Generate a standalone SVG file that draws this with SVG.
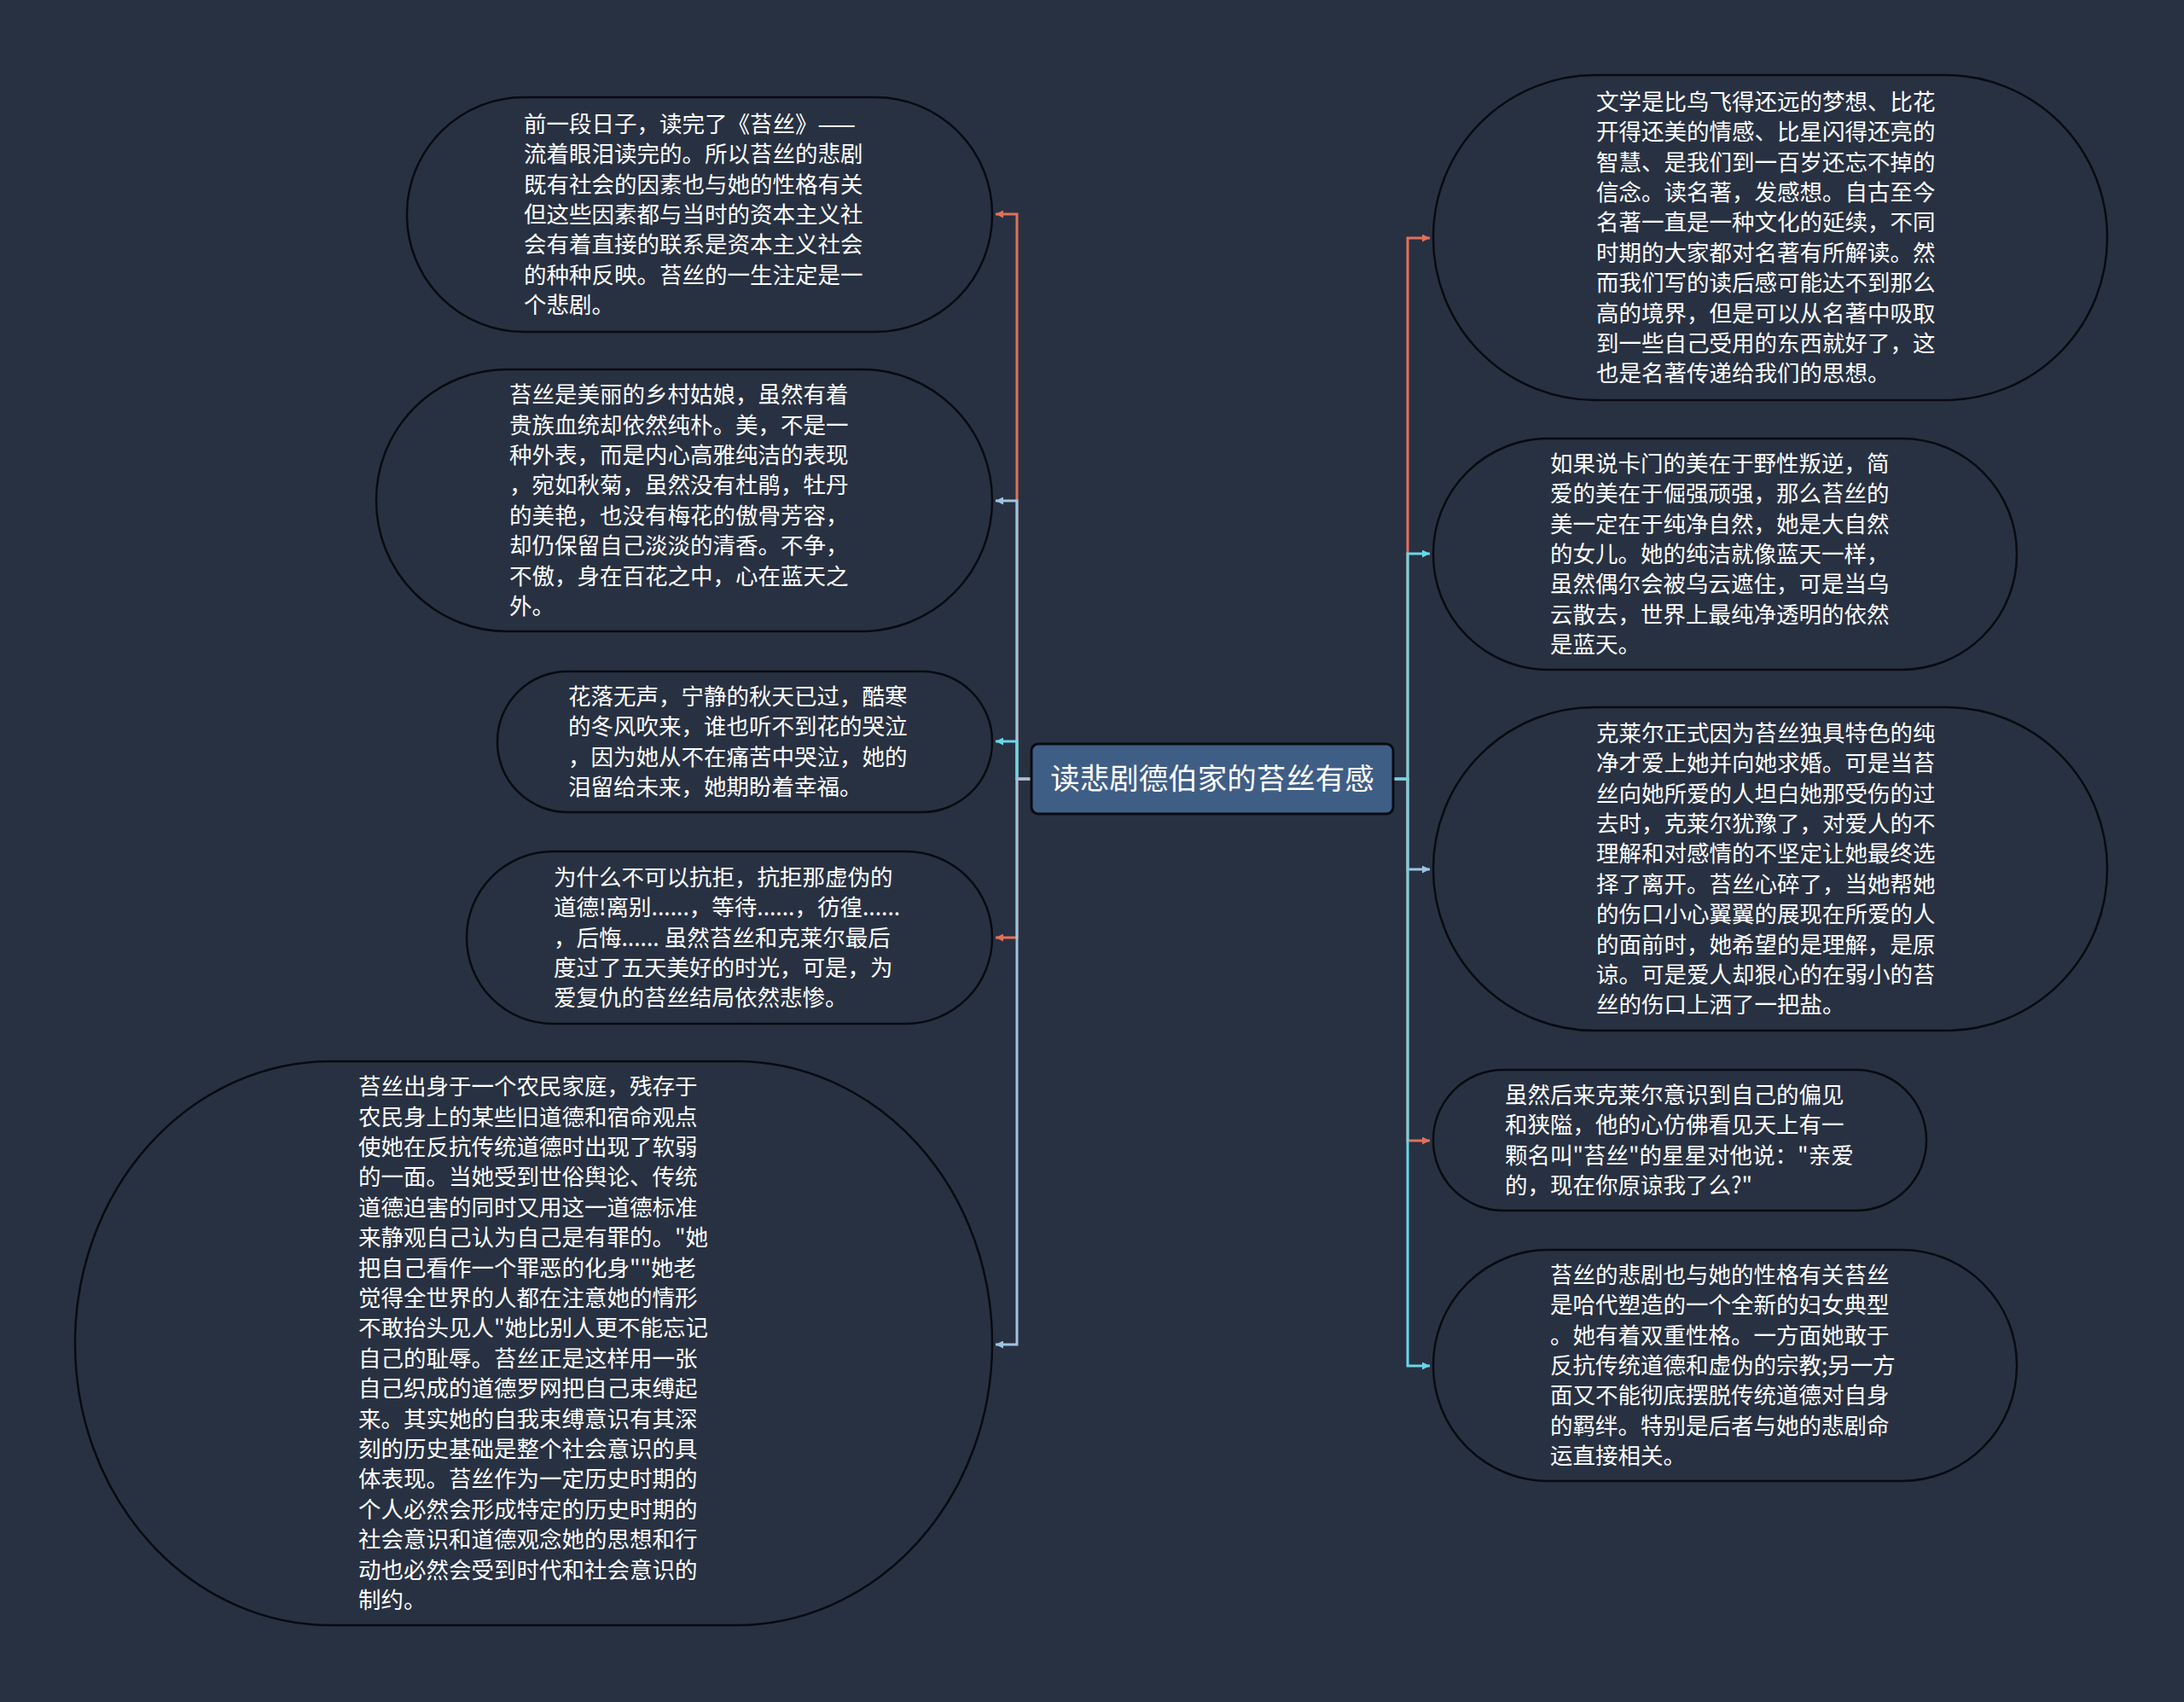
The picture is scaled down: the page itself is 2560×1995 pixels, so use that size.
<svg xmlns="http://www.w3.org/2000/svg" width="2560" height="1995" viewBox="0 0 2560 1995">
<style>
.bg{fill:#283142}
.node{fill:#283142;stroke:#080b10;stroke-width:2.5}
.t{font-family:"Noto Sans CJK SC","Noto Sans",sans-serif;font-size:26.5px;fill:#ffffff}
.ct{font-family:"Noto Sans CJK SC","Noto Sans",sans-serif;font-size:34.5px;fill:#ffffff}
.e{fill:none;stroke-width:3}
.red{stroke:#e2705a}
.cyan{stroke:#6ad6e6}
.lb{stroke:#9fc3e2}
</style>
<defs>
<marker id="aRed" viewBox="0 0 10 10" refX="10" refY="5" markerUnits="userSpaceOnUse" markerWidth="12" markerHeight="9" orient="auto"><path d="M0,0 L10,5 L0,10 z" fill="#e2705a"/></marker>
<marker id="aCyan" viewBox="0 0 10 10" refX="10" refY="5" markerUnits="userSpaceOnUse" markerWidth="12" markerHeight="9" orient="auto"><path d="M0,0 L10,5 L0,10 z" fill="#6ad6e6"/></marker>
<marker id="aLb" viewBox="0 0 10 10" refX="10" refY="5" markerUnits="userSpaceOnUse" markerWidth="12" markerHeight="9" orient="auto"><path d="M0,0 L10,5 L0,10 z" fill="#9fc3e2"/></marker>
</defs>
<rect class="bg" x="0" y="0" width="2560" height="1995"/>
<g id="connectors">
<path class="e red" d="M1209,913 H1192 V251 H1167" marker-end="url(#aRed)"/>
<path class="e lb" d="M1209,913 H1192 V587 H1167" marker-end="url(#aLb)"/>
<path class="e cyan" d="M1209,913 H1192 V869 H1167" marker-end="url(#aCyan)"/>
<path class="e red" d="M1209,913 H1192 V1099 H1167" marker-end="url(#aRed)"/>
<path class="e lb" d="M1209,913 H1192 V1576 H1167" marker-end="url(#aLb)"/>
<path class="e red" d="M1633,913 H1650 V279 H1676" marker-end="url(#aRed)"/>
<path class="e cyan" d="M1633,913 H1650 V649 H1676" marker-end="url(#aCyan)"/>
<path class="e lb" d="M1633,913 H1650 V1019 H1676" marker-end="url(#aLb)"/>
<path class="e red" d="M1633,913 H1650 V1337 H1676" marker-end="url(#aRed)"/>
<path class="e cyan" d="M1633,913 H1650 V1601 H1676" marker-end="url(#aCyan)"/>
</g>
<g id="center">
<rect x="1209" y="872" width="424" height="82" rx="8" fill="#3f5e86" stroke="#080b10" stroke-width="3"/>
<text class="ct" x="1421" y="925" text-anchor="middle">读悲剧德伯家的苔丝有感</text>
</g>
<g id="L1">
<rect class="node" x="477" y="114" width="686" height="275" rx="137" ry="137"/>
<text class="t" x="614" y="154.8"><tspan x="614">前一段日子，读完了《苔丝》——</tspan><tspan x="614" dy="35.4">流着眼泪读完的。所以苔丝的悲剧</tspan><tspan x="614" dy="35.4">既有社会的因素也与她的性格有关</tspan><tspan x="614" dy="35.4">但这些因素都与当时的资本主义社</tspan><tspan x="614" dy="35.4">会有着直接的联系是资本主义社会</tspan><tspan x="614" dy="35.4">的种种反映。苔丝的一生注定是一</tspan><tspan x="614" dy="35.4">个悲剧。</tspan></text>
</g>
<g id="L2">
<rect class="node" x="441" y="433" width="722" height="307" rx="153" ry="153"/>
<text class="t" x="597" y="472.1"><tspan x="597">苔丝是美丽的乡村姑娘，虽然有着</tspan><tspan x="597" dy="35.4">贵族血统却依然纯朴。美，不是一</tspan><tspan x="597" dy="35.4">种外表，而是内心高雅纯洁的表现</tspan><tspan x="597" dy="35.4">，宛如秋菊，虽然没有杜鹃，牡丹</tspan><tspan x="597" dy="35.4">的美艳，也没有梅花的傲骨芳容，</tspan><tspan x="597" dy="35.4">却仍保留自己淡淡的清香。不争，</tspan><tspan x="597" dy="35.4">不傲，身在百花之中，心在蓝天之</tspan><tspan x="597" dy="35.4">外。</tspan></text>
</g>
<g id="L3">
<rect class="node" x="583" y="787" width="580" height="165" rx="82" ry="82"/>
<text class="t" x="666" y="825.9"><tspan x="666">花落无声，宁静的秋天已过，酷寒</tspan><tspan x="666" dy="35.4">的冬风吹来，谁也听不到花的哭泣</tspan><tspan x="666" dy="35.4">，因为她从不在痛苦中哭泣，她的</tspan><tspan x="666" dy="35.4">泪留给未来，她期盼着幸福。</tspan></text>
</g>
<g id="L4">
<rect class="node" x="547" y="998" width="616" height="202" rx="101" ry="101"/>
<text class="t" x="649" y="1037.7"><tspan x="649">为什么不可以抗拒，抗拒那虚伪的</tspan><tspan x="649" dy="35.4">道德!离别......，等待......，彷徨......</tspan><tspan x="649" dy="35.4">，后悔...... 虽然苔丝和克莱尔最后</tspan><tspan x="649" dy="35.4">度过了五天美好的时光，可是，为</tspan><tspan x="649" dy="35.4">爱复仇的苔丝结局依然悲惨。</tspan></text>
</g>
<g id="L5">
<rect class="node" x="88" y="1244" width="1075" height="661" rx="300" ry="330"/>
<text class="t" x="420" y="1283.1"><tspan x="420">苔丝出身于一个农民家庭，残存于</tspan><tspan x="420" dy="35.4">农民身上的某些旧道德和宿命观点</tspan><tspan x="420" dy="35.4">使她在反抗传统道德时出现了软弱</tspan><tspan x="420" dy="35.4">的一面。当她受到世俗舆论、传统</tspan><tspan x="420" dy="35.4">道德迫害的同时又用这一道德标准</tspan><tspan x="420" dy="35.4">来静观自己认为自己是有罪的。"她</tspan><tspan x="420" dy="35.4">把自己看作一个罪恶的化身""她老</tspan><tspan x="420" dy="35.4">觉得全世界的人都在注意她的情形</tspan><tspan x="420" dy="35.4">不敢抬头见人"她比别人更不能忘记</tspan><tspan x="420" dy="35.4">自己的耻辱。苔丝正是这样用一张</tspan><tspan x="420" dy="35.4">自己织成的道德罗网把自己束缚起</tspan><tspan x="420" dy="35.4">来。其实她的自我束缚意识有其深</tspan><tspan x="420" dy="35.4">刻的历史基础是整个社会意识的具</tspan><tspan x="420" dy="35.4">体表现。苔丝作为一定历史时期的</tspan><tspan x="420" dy="35.4">个人必然会形成特定的历史时期的</tspan><tspan x="420" dy="35.4">社会意识和道德观念她的思想和行</tspan><tspan x="420" dy="35.4">动也必然会受到时代和社会意识的</tspan><tspan x="420" dy="35.4">制约。</tspan></text>
</g>
<g id="R1">
<rect class="node" x="1680" y="88" width="790" height="381" rx="190" ry="190"/>
<text class="t" x="1871" y="128.7"><tspan x="1871">文学是比鸟飞得还远的梦想、比花</tspan><tspan x="1871" dy="35.4">开得还美的情感、比星闪得还亮的</tspan><tspan x="1871" dy="35.4">智慧、是我们到一百岁还忘不掉的</tspan><tspan x="1871" dy="35.4">信念。读名著，发感想。自古至今</tspan><tspan x="1871" dy="35.4">名著一直是一种文化的延续，不同</tspan><tspan x="1871" dy="35.4">时期的大家都对名著有所解读。然</tspan><tspan x="1871" dy="35.4">而我们写的读后感可能达不到那么</tspan><tspan x="1871" dy="35.4">高的境界，但是可以从名著中吸取</tspan><tspan x="1871" dy="35.4">到一些自己受用的东西就好了，这</tspan><tspan x="1871" dy="35.4">也是名著传递给我们的思想。</tspan></text>
</g>
<g id="R2">
<rect class="node" x="1680" y="514" width="684" height="271" rx="135" ry="135"/>
<text class="t" x="1817" y="552.8"><tspan x="1817">如果说卡门的美在于野性叛逆，简</tspan><tspan x="1817" dy="35.4">爱的美在于倔强顽强，那么苔丝的</tspan><tspan x="1817" dy="35.4">美一定在于纯净自然，她是大自然</tspan><tspan x="1817" dy="35.4">的女儿。她的纯洁就像蓝天一样，</tspan><tspan x="1817" dy="35.4">虽然偶尔会被乌云遮住，可是当乌</tspan><tspan x="1817" dy="35.4">云散去，世界上最纯净透明的依然</tspan><tspan x="1817" dy="35.4">是蓝天。</tspan></text>
</g>
<g id="R3">
<rect class="node" x="1680" y="829" width="790" height="379" rx="189" ry="189"/>
<text class="t" x="1871" y="868.7"><tspan x="1871">克莱尔正式因为苔丝独具特色的纯</tspan><tspan x="1871" dy="35.4">净才爱上她并向她求婚。可是当苔</tspan><tspan x="1871" dy="35.4">丝向她所爱的人坦白她那受伤的过</tspan><tspan x="1871" dy="35.4">去时，克莱尔犹豫了，对爱人的不</tspan><tspan x="1871" dy="35.4">理解和对感情的不坚定让她最终选</tspan><tspan x="1871" dy="35.4">择了离开。苔丝心碎了，当她帮她</tspan><tspan x="1871" dy="35.4">的伤口小心翼翼的展现在所爱的人</tspan><tspan x="1871" dy="35.4">的面前时，她希望的是理解，是原</tspan><tspan x="1871" dy="35.4">谅。可是爱人却狠心的在弱小的苔</tspan><tspan x="1871" dy="35.4">丝的伤口上洒了一把盐。</tspan></text>
</g>
<g id="R4">
<rect class="node" x="1680" y="1254" width="578" height="165" rx="82" ry="82"/>
<text class="t" x="1764" y="1292.9"><tspan x="1764">虽然后来克莱尔意识到自己的偏见</tspan><tspan x="1764" dy="35.4">和狭隘，他的心仿佛看见天上有一</tspan><tspan x="1764" dy="35.4">颗名叫"苔丝"的星星对他说："亲爱</tspan><tspan x="1764" dy="35.4">的，现在你原谅我了么?"</tspan></text>
</g>
<g id="R5">
<rect class="node" x="1680" y="1465" width="684" height="271" rx="135" ry="135"/>
<text class="t" x="1817" y="1503.8"><tspan x="1817">苔丝的悲剧也与她的性格有关苔丝</tspan><tspan x="1817" dy="35.4">是哈代塑造的一个全新的妇女典型</tspan><tspan x="1817" dy="35.4">。她有着双重性格。一方面她敢于</tspan><tspan x="1817" dy="35.4">反抗传统道德和虚伪的宗教;另一方</tspan><tspan x="1817" dy="35.4">面又不能彻底摆脱传统道德对自身</tspan><tspan x="1817" dy="35.4">的羁绊。特别是后者与她的悲剧命</tspan><tspan x="1817" dy="35.4">运直接相关。</tspan></text>
</g>
</svg>
